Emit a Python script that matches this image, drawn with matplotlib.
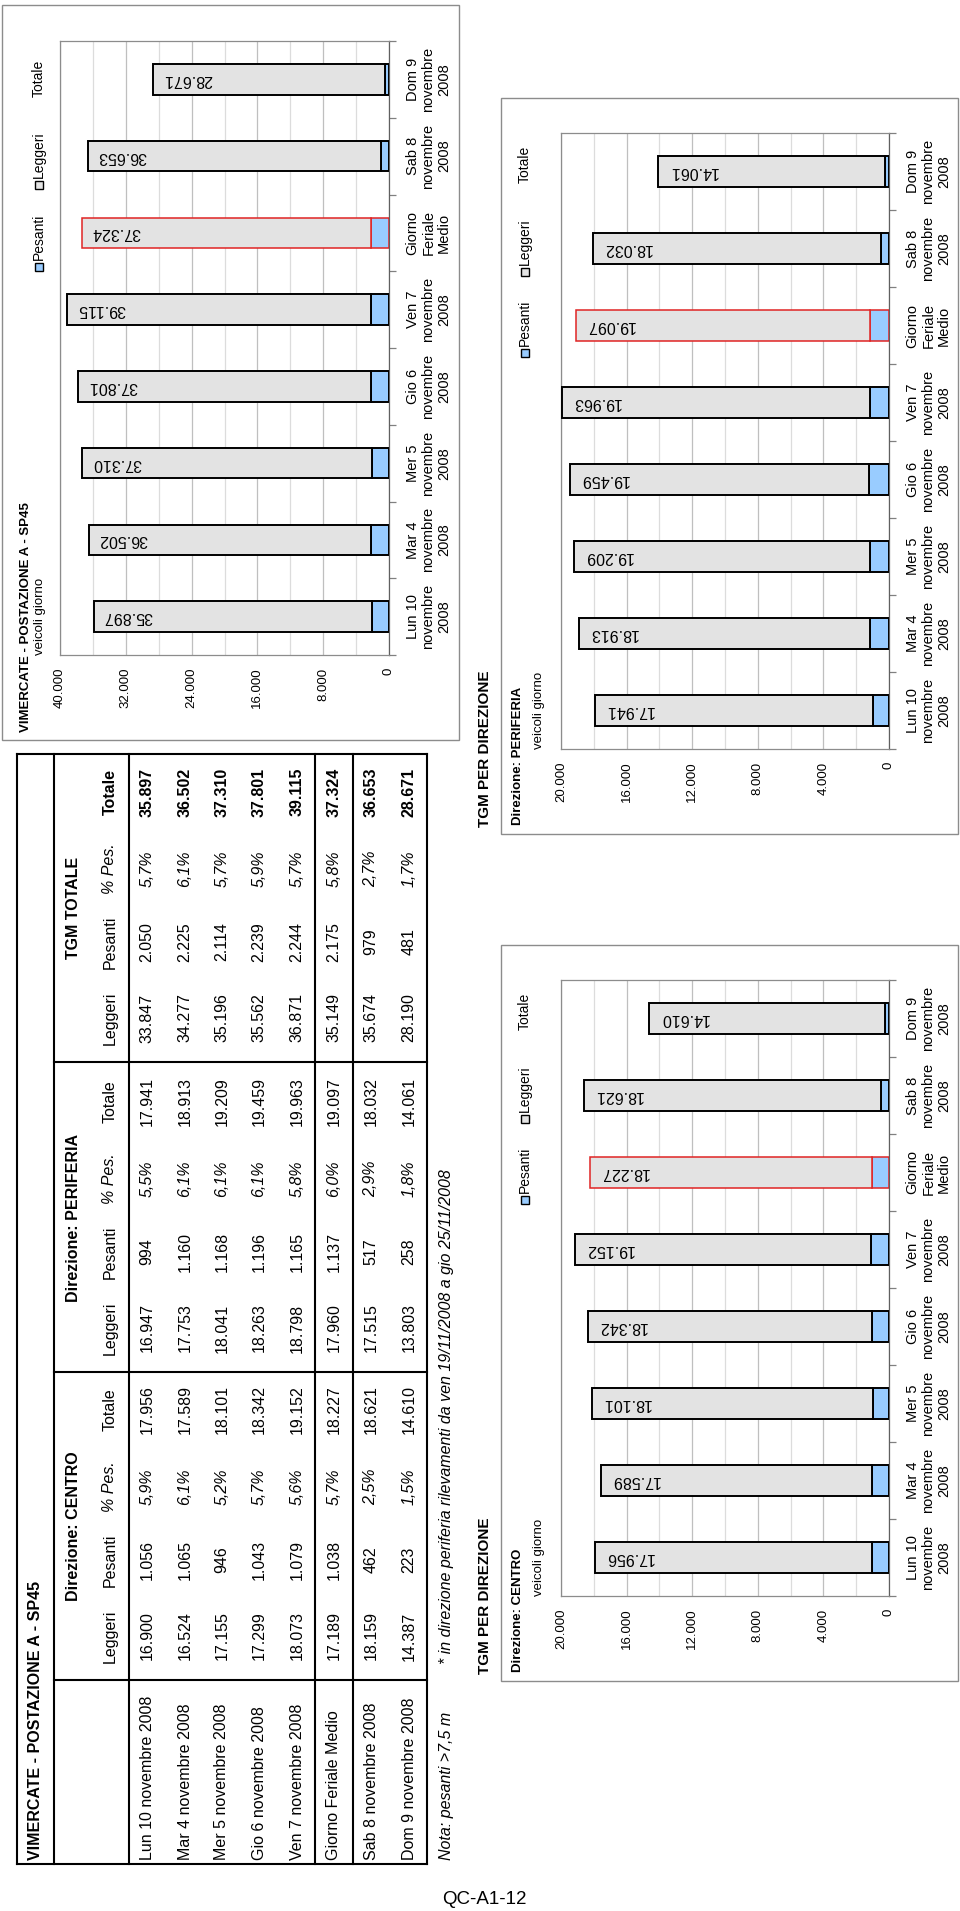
import matplotlib
matplotlib.use('Agg')
import matplotlib.pyplot as plt
from matplotlib.patches import Rectangle
import numpy as np

plt.rcParams['font.family'] = ['Liberation Sans', 'DejaVu Sans']

W, H = 960, 1911

# dati
giorni = ['Lun 10 novembre 2008', 'Mar 4 novembre 2008', 'Mer 5 novembre 2008',
          'Gio 6 novembre 2008', 'Ven 7 novembre 2008', 'Giorno Feriale Medio',
          'Sab 8 novembre 2008', 'Dom 9 novembre 2008']
giorni_grafico = ['Lun 10\nnovembre\n2008', 'Mar 4\nnovembre\n2008', 'Mer 5\nnovembre\n2008',
                  'Gio 6\nnovembre\n2008', 'Ven 7\nnovembre\n2008', 'Giorno\nFeriale\nMedio',
                  'Sab 8\nnovembre\n2008', 'Dom 9\nnovembre\n2008']

centro_leggeri = [16900, 16524, 17155, 17299, 18073, 17189, 18159, 14387]
centro_pesanti = [1056, 1065, 946, 1043, 1079, 1038, 462, 223]
centro_perc = ['5,9%', '6,1%', '5,2%', '5,7%', '5,6%', '5,7%', '2,5%', '1,5%']
centro_totale = [17956, 17589, 18101, 18342, 19152, 18227, 18621, 14610]

periferia_leggeri = [16947, 17753, 18041, 18263, 18798, 17960, 17515, 13803]
periferia_pesanti = [994, 1160, 1168, 1196, 1165, 1137, 517, 258]
periferia_perc = ['5,5%', '6,1%', '6,1%', '6,1%', '5,8%', '6,0%', '2,9%', '1,8%']
periferia_totale = [17941, 18913, 19209, 19459, 19963, 19097, 18032, 14061]

totale_leggeri = [33847, 34277, 35196, 35562, 36871, 35149, 35674, 28190]
totale_pesanti = [2050, 2225, 2114, 2239, 2244, 2175, 979, 481]
totale_perc = ['5,7%', '6,1%', '5,7%', '5,9%', '5,7%', '5,8%', '2,7%', '1,7%']
totale_totale = [35897, 36502, 37310, 37801, 39115, 37324, 36653, 28671]

col_pesanti = '#99CCFF'
col_leggeri = '#E3E3E3'
col_rosso = '#E02424'


def fmt(v):
    return f"{v:,}".replace(",", ".")


fig = plt.figure(figsize=(W / 100, H / 100), dpi=100)
page = fig.add_axes([0, 0, 1, 1])
page.set_xlim(0, W)
page.set_ylim(H, 0)
page.axis('off')


def px_axes(x0, y0, x1, y1):
    return fig.add_axes([x0 / W, 1 - y1 / H, (x1 - x0) / W, (y1 - y0) / H])


def vtext(x, y, s, ha='left', **kw):
    page.text(x, y, s, rotation=90, rotation_mode='anchor', ha=ha, va='center', **kw)


def grafico(box, plot, leggeri, pesanti, totale, vmax, major, minor,
            titolo, leg_x, leg_y):
    page.add_patch(Rectangle((box[0], box[1]), box[2] - box[0], box[3] - box[1],
                             facecolor='white', edgecolor='#8C8C8C', lw=1.0, zorder=1))
    ax = px_axes(*plot)
    ax.set_facecolor('white')
    n = len(leggeri)
    ypos = np.arange(n)
    edge = ['black'] * n
    edge[5] = col_rosso
    lw = [1.4] * n
    lw[5] = 1.1
    ax.barh(ypos, pesanti, height=0.4, color=col_pesanti, edgecolor=edge, linewidth=lw, zorder=3)
    ax.barh(ypos, leggeri, left=pesanti, height=0.4, color=col_leggeri,
            edgecolor=edge, linewidth=lw, zorder=3)
    for i, t in enumerate(totale):
        ax.annotate(fmt(t), (t, i), xytext=(10, 0), textcoords='offset pixels',
                    rotation=180, ha='left', va='center', fontsize=11.5, zorder=5)
    ax.set_xlim(vmax, 0)
    ax.set_ylim(-0.5, n - 0.5)
    ticks = np.arange(0, vmax + 1, major)
    ax.set_xticks(ticks, labels=[fmt(v) for v in ticks])
    ax.set_xticks(np.arange(0, vmax + 1, minor), minor=True)
    ax.grid(axis='x', which='major', color='#BFBFBF', lw=0.9, zorder=0)
    ax.grid(axis='x', which='minor', color='#DCDCDC', lw=0.9, zorder=0)
    ax.tick_params(axis='x', which='both', length=0, pad=9, labelsize=9.5, labelrotation=90)
    ax.yaxis.tick_right()
    ax.set_yticks(np.arange(n + 1) - 0.5, labels=[''] * (n + 1))
    ax.set_yticks(ypos, labels=giorni_grafico, minor=True)
    ax.tick_params(axis='y', which='major', length=5, color='#808080', width=0.9)
    ax.tick_params(axis='y', which='minor', length=0, pad=12, labelsize=10.5, labelrotation=90)
    for t in ax.get_yticklabels(minor=True):
        t.set_multialignment('center')
        t.set_linespacing(1.15)
        t.set_va('center')
    for s in ax.spines.values():
        s.set_color('#8C8C8C')
        s.set_linewidth(0.9)
    ax.spines['right'].set_color('#606060')
    # titolo e legenda
    x0, y0, x1, y1 = plot
    vtext(box[0] + titolo[0][1], titolo[0][2], titolo[0][0], fontsize=9.5, fontweight='bold')
    vtext(box[0] + 38, y1, 'veicoli giorno', fontsize=9.5)
    (yp, yl, yt) = leg_y
    for yy, col, lab in [(yp, col_pesanti, 'Pesanti'), (yl, col_leggeri, 'Leggeri')]:
        page.add_patch(Rectangle((leg_x - 4, yy - 4), 8, 8, facecolor=col,
                                 edgecolor='black', lw=1.0, zorder=2))
        vtext(leg_x, yy - 7, lab, fontsize=10, zorder=3)
    vtext(leg_x, yt, 'Totale', fontsize=10, zorder=3)
    return ax


# grafico totale
grafico((2, 5, 459, 740), (60, 41, 389, 655), totale_leggeri, totale_pesanti, totale_totale,
        40000, 8000, 4000, [('VIMERCATE - POSTAZIONE A - SP45', 24, 732)],
        39, (267, 185, 97))

# grafici per direzione
for dy, lg, ps, tt, nome in [(0, periferia_leggeri, periferia_pesanti, periferia_totale, 'PERIFERIA'),
                             (847, centro_leggeri, centro_pesanti, centro_totale, 'CENTRO')]:
    grafico((501, 98 + dy, 958, 834 + dy), (561, 133 + dy, 889, 749 + dy), lg, ps, tt,
            20000, 4000, 2000, [('Direzione: ' + nome, 17, 825 + dy)],
            525, (353 + dy, 272 + dy, 183 + dy))
    vtext(485, 827 + dy, 'TGM PER DIREZIONE', fontsize=11, fontweight='bold')

# tabella
tab_x = [17, 54, 129, 315, 353, 427]
tab_y = [754, 1062, 1372, 1680, 1864]
for x in tab_x:
    page.plot([x, x], [754, 1864], color='black', lw=1.5, solid_capstyle='projecting')
for y in tab_y:
    xs = 17 if y in (754, 1864) else 54
    page.plot([xs, 427], [y, y], color='black', lw=1.5, solid_capstyle='projecting')

righe_x = [147, 185, 222, 259, 297, 334, 371, 409]
vtext(36, 1860, 'VIMERCATE - POSTAZIONE A - SP45', fontsize=11.5, fontweight='bold')
for x, g in zip(righe_x, giorni):
    vtext(x, 1860, g, fontsize=11.5)

offs = [-44, -120, -193, -270]
intestazioni = ['Leggeri', 'Pesanti', '% Pes.', 'Totale']
gruppi = [(1680, 'Direzione: CENTRO', centro_leggeri, centro_pesanti, centro_perc, centro_totale, 'normal'),
          (1372, 'Direzione: PERIFERIA', periferia_leggeri, periferia_pesanti, periferia_perc,
           periferia_totale, 'normal'),
          (1062, 'TGM TOTALE', totale_leggeri, totale_pesanti, totale_perc, totale_totale, 'bold')]
for base, nome, lg, ps, pc, tt, peso in gruppi:
    vtext(73, base - 154, nome, ha='center', fontsize=11.5, fontweight='bold')
    for j, lab in enumerate(intestazioni):
        yc = base + offs[j]
        vtext(110, yc, lab, ha='center', fontsize=11.5,
              fontstyle='italic' if j == 2 else 'normal',
              fontweight='bold' if (j == 3 and peso == 'bold') else 'normal')
    for i, x in enumerate(righe_x):
        vtext(x, base + offs[0], fmt(lg[i]), ha='center', fontsize=11.5)
        vtext(x, base + offs[1], fmt(ps[i]), ha='center', fontsize=11.5)
        vtext(x, base + offs[2], pc[i], ha='center', fontsize=11.5, fontstyle='italic')
        vtext(x, base + offs[3], fmt(tt[i]), ha='center', fontsize=11.5, fontweight=peso)

vtext(446, 1664, '* in direzione periferia rilevamenti da ven 19/11/2008 a gio 25/11/2008',
      fontsize=11.5, fontstyle='italic')
vtext(446, 1860, 'Nota: pesanti >7,5 m', fontsize=11.5, fontstyle='italic')
page.text(442, 1899, 'QC-A1-12', ha='left', va='center', fontsize=13.5)

fig.savefig('out.png', dpi=100, facecolor='white')
